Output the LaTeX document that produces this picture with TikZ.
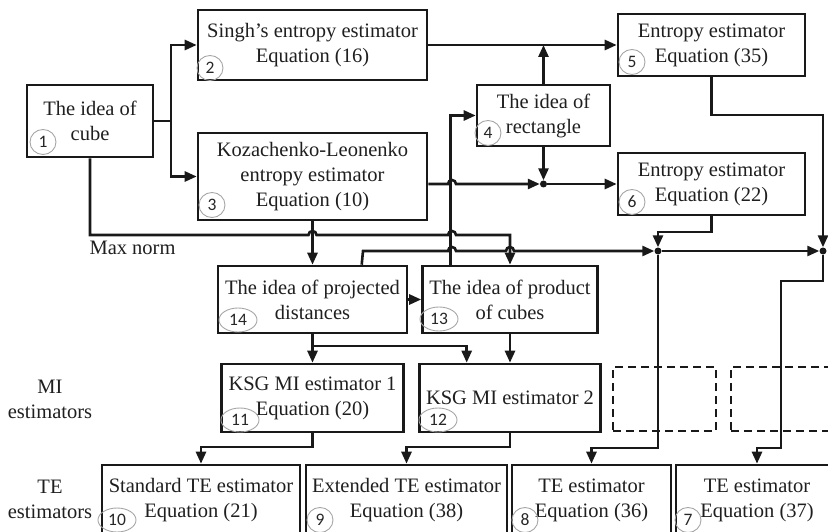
\documentclass[tikz,border=0pt]{standalone}
\usepackage{fontspec}
\setmainfont{Liberation Serif}
\newfontfamily\numfont{Carlito}
\usetikzlibrary{arrows.meta,calc,shapes.geometric}
\begin{document}
\begin{tikzpicture}[x=1pt,y=-1pt,
  every node/.style={font=\fontsize{20.5}{25}\selectfont, text=black!88},
  blk/.style={draw=black!90, line width=2.6pt, align=center, inner sep=0pt},
  dbox/.style={draw=black!90, line width=2.6pt, dash pattern=on 8pt off 5pt, inner sep=0pt},
  num/.style={ellipse, draw=black!35, line width=0.9pt, inner sep=0pt, minimum width=26pt, minimum height=25pt, font=\numfont\fontsize{17.5}{17.5}\selectfont, text=black!85},
  numw/.style={num, minimum width=38pt, minimum height=24pt},
  con/.style={draw=black!90, line width=2.6pt},
  arr/.style={con, -{Triangle[length=12pt,width=10pt]}},
  dot/.style={circle, fill=black!90, inner sep=0pt, minimum size=7pt},
]
\useasboundingbox (0,0) rectangle (828,532);
\clip (0,0) rectangle (828,532);

% boxes
\node[blk, minimum width=126pt, minimum height=72pt] (b1) at (90,121) {The idea of\\cube};
\node[blk, minimum width=229pt, minimum height=70pt] (b2) at (312.5,45) {Singh’s entropy estimator\\Equation (16)};
\node[blk, minimum width=229pt, minimum height=87pt] (b3) at (312.5,176.5) {Kozachenko-Leonenko\\entropy estimator\\Equation (10)};
\node[blk, minimum width=133pt, minimum height=61pt] (b4) at (543.5,115.5) {The idea of\\rectangle};
\node[blk, minimum width=187pt, minimum height=62pt] (b5) at (711.5,45) {Entropy estimator\\Equation (35)};
\node[blk, minimum width=187pt, minimum height=62pt] (b6) at (711.5,184) {Entropy estimator\\Equation (22)};
\node[blk, minimum width=189pt, minimum height=67pt] (b14) at (312.5,299.5) {The idea of projected\\distances};
\node[blk, minimum width=175pt, minimum height=67pt] (b13) at (510,299.5) {The idea of product\\of cubes};
\node[blk, minimum width=182pt, minimum height=68pt] (b11) at (312.5,398) {KSG MI estimator 1\\Equation (20)};
\node[blk, minimum width=181pt, minimum height=68pt] (b12) at (510,398) {KSG MI estimator 2};
\node[dbox, minimum width=103pt, minimum height=64pt] (d1) at (664.5,399) {};
\node[dbox, minimum width=103pt, minimum height=64pt] (d2) at (782.5,399) {};
\node[blk, minimum width=198pt, minimum height=70pt] (b10) at (201,500) {Standard TE estimator\\Equation (21)};
\node[blk, minimum width=201pt, minimum height=70pt] (b9) at (406.5,500) {Extended TE estimator\\Equation (38)};
\node[blk, minimum width=159pt, minimum height=70pt] (b8) at (591.5,500) {TE estimator\\Equation (36)};
\node[blk, minimum width=162pt, minimum height=70pt] (b7) at (757,500) {TE estimator\\Equation (37)};

% side labels
\node[anchor=west] (lmax) at (86,248) {Max norm};
\node[align=center] (lmi) at (50,399.5) {MI\\estimators};
\node[align=center] (lte) at (50,499.5) {TE\\estimators};

% circled numbers
\node[num] (n1) at (43,142) {1};
\node[num] (n2) at (210,68) {2};
\node[num] (n3) at (212,205) {3};
\node[num] (n4) at (488,133) {4};
\node[num] (n5) at (632,62) {5};
\node[num] (n6) at (632,202) {6};
\node[numw] (n14) at (238,320) {14};
\node[numw] (n13) at (439,319) {13};
\node[numw] (n11) at (240,420) {11};
\node[numw] (n12) at (438,420) {12};
\node[numw] (n10) at (117,520) {10};
\node[num] (n9) at (320,520) {9};
\node[num] (n8) at (525,520) {8};
\node[num] (n7) at (688,520) {7};

% junction dots
\node[dot] (dA) at (543.5,184) {};
\node[dot] (dB) at (658,251) {};
\node[dot] (dC) at (823,251) {};
\coordinate (j1) at (171,121);
\coordinate (j14) at (312.5,346);

% connectors
\draw[con] (b1.east) -- (j1);
\draw[arr] (j1) |- (b2.west);
\draw[arr] (j1) |- (b3.west);
\draw[arr] (b1.south) -- (90,235) -- (308.5,235) arc[start angle=180,end angle=0,radius=4pt]
   -- (448,235) arc[start angle=180,end angle=0,radius=4pt] -- (510,235) -- (b13.north);
\draw[arr] (b2.east) -- (b5.west);
\draw[arr] (b4.north) -- (b4.north |- b2.east);
\draw[arr] ($(b3.east)+(0,7.5)$) -- (448,184) arc[start angle=180,end angle=0,radius=4pt] -- (dA);
\draw[arr] (b4.south) -- (dA);
\draw[arr] (dA) -- (b6.west);
\draw[arr] ($(b13.north west)+(29.5,0)$) |- (b4.west);
\draw[arr] (b3.south) -- (b14.north);
\draw[arr] ($(b14.north west)+(145,0)$) -- (363,251) -- (448,251) arc[start angle=180,end angle=0,radius=4pt]
   -- (506,251) arc[start angle=180,end angle=0,radius=4pt] -- (dB);
\draw[arr] (dB) -- (dC);
\draw[arr] (b6.south) -- (711.5,232) -| (dB);
\draw[arr] (b5.south) -- (711.5,115) -| (dC);
\draw[arr] (dB) -- (658,448) -| (b8.north);
\draw[arr] (dC) -- (823,281) -- (781,281) -- (781,448) -| (b7.north);
\draw[arr] (b14.east) -- (b13.west);
\draw[arr] (b14.south) -- (b11.north);
\draw[arr] (j14) -| ($(b12.north west)+(48.5,0)$);
\draw[arr] (b13.south) -- (b12.north);
\draw[arr] (b11.south) -- (312.5,447) -| (b10.north);
\draw[arr] (b12.south) -- (510,447) -| (b9.north);
\end{tikzpicture}
\end{document}
